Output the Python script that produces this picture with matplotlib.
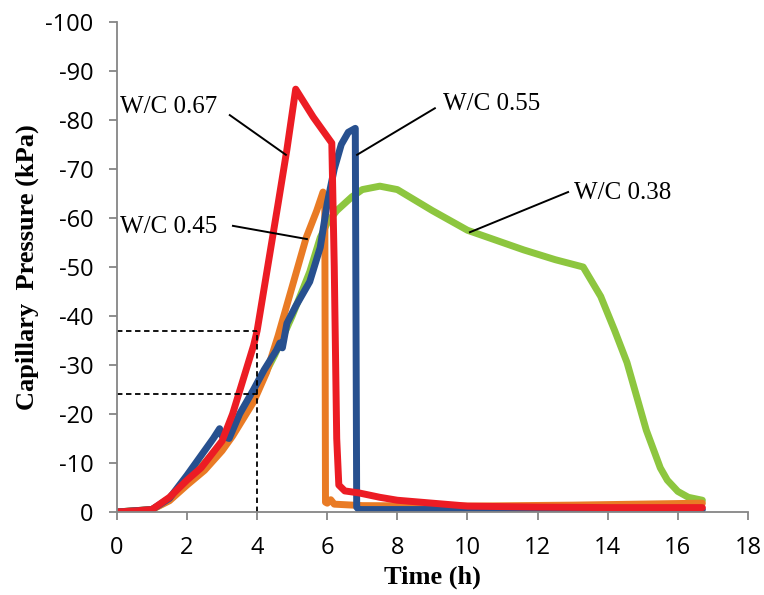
import matplotlib
matplotlib.use('Agg')
import matplotlib.pyplot as plt

plt.rcParams['axes.unicode_minus'] = False

# W/C 0.67 (red)
t_067 = [0, 0.5, 1.0, 1.5, 2.0, 2.4, 3.0, 3.3, 3.6, 3.9, 4.0, 4.3, 4.6, 4.85, 5.1,
         5.6, 6.13, 6.2, 6.27, 6.33, 6.5, 6.9, 7.5, 8.0, 9.0, 10.0, 12.0, 14.0, 16.7]
p_067 = [0, -0.2, -0.5, -3, -6.5, -9, -14.5, -20, -27, -34, -37, -50, -63, -74, -86.3,
         -80.6, -75.3, -50, -15, -5.5, -4.3, -3.9, -3, -2.4, -1.8, -1.2, -1.0, -0.9, -0.9]

# W/C 0.55 (blue)
t_055 = [0, 1.0, 1.5, 2.0, 2.55, 2.75, 2.93, 3.0, 3.2, 3.5, 3.9, 4.2, 4.55, 4.65, 4.72,
         4.85, 5.1, 5.5, 5.8, 6.0, 6.2, 6.4, 6.6, 6.8, 6.84, 6.9, 8, 10, 12, 14, 16.7]
p_055 = [0, -0.5, -2.8, -7.5, -13, -15, -17, -15.5, -15, -20, -25, -29, -33, -34.5, -33.5,
         -38.5, -42, -47, -54, -63, -70, -75, -77.5, -78.3, -1, -0.5, -0.5, -0.5, -0.5, -0.5, -0.5]

# W/C 0.45 (orange)
t_045 = [0, 1.0, 1.5, 2.0, 2.5, 3.0, 3.3, 3.6, 3.9, 4.27, 4.6, 5.0, 5.4, 5.7, 5.88,
         5.93, 5.95, 6.0, 6.1, 6.2, 7, 10, 13, 16.7]
p_045 = [0, -0.5, -2.3, -5.5, -8.5, -12.5, -15.5, -19, -22.5, -28.5, -36, -46, -56, -61.5, -65.3,
         -64, -2, -1.8, -2.5, -1.6, -1.3, -1.2, -1.4, -1.8]

# W/C 0.38 (green)
t_038 = [0, 1, 1.5, 2, 2.5, 3, 3.5, 4, 4.5, 5, 5.5, 5.8, 6.0, 6.27, 6.7, 7.0, 7.5, 8.0,
         9.0, 10.0, 11.0, 11.6, 12.5, 13.3, 13.8, 14.2, 14.55, 15.1, 15.5, 15.7, 16.0, 16.3, 16.7]
p_038 = [0, -0.5, -2.5, -6, -10, -14, -19, -25, -32, -40, -49, -56, -59, -61.5, -64.3, -65.8, -66.5, -65.8,
         -61.5, -57.5, -55, -53.5, -51.5, -50, -44, -37, -30.5, -16.7, -9, -6.5, -4.2, -3, -2.4]

fig = plt.figure(figsize=(7.64, 5.95), dpi=100)
ax = fig.add_axes([0.153, 0.1395, 0.826, 0.8235])

lw = 5
style = dict(lw=lw, solid_joinstyle='round', solid_capstyle='round')
ax.plot(t_038, p_038, color='#8DC63F', **style)
ax.plot(t_045, p_045, color='#E97B25', **style)
ax.plot(t_055, p_055, color='#27508F', **style)
ax.plot(t_067, p_067, color='#EC1C24', **style)

# dashed guide lines
ax.plot([0, 4], [-37, -37], color='black', lw=1.3, ls=(0, (3, 2)))
ax.plot([0, 4], [-24, -24], color='black', lw=1.3, ls=(0, (3, 2)))
ax.plot([4, 4], [0, -37], color='black', lw=1.3, ls=(0, (3, 2)))

# labels with leader lines
serif = 'Liberation Serif'
ax.text(0.09, -82.7, 'W/C 0.67', fontsize=18, family=serif, va='center', ha='left')
ax.plot([3.22, 4.82], [-81, -72.9], color='black', lw=1.4)
ax.text(0.09, -58.2, 'W/C 0.45', fontsize=18, family=serif, va='center', ha='left')
ax.plot([3.31, 5.42], [-58.4, -55.7], color='black', lw=1.4)
ax.text(9.3, -83.3, 'W/C 0.55', fontsize=18, family=serif, va='center', ha='left')
ax.plot([9.07, 6.85], [-82.4, -72.9], color='black', lw=1.4)
ax.text(13.05, -65.1, 'W/C 0.38', fontsize=18, family=serif, va='center', ha='left')
ax.plot([12.87, 10.07], [-65.3, -57.1], color='black', lw=1.4)

ax.set_xlim(0, 18)
ax.set_ylim(0, -100)
ax.set_xticks(range(0, 19, 2))
ax.set_yticks(range(0, -101, -10))

for s in ['top', 'right']:
    ax.spines[s].set_visible(False)
for s in ['left', 'bottom']:
    ax.spines[s].set_color('#868686')
    ax.spines[s].set_linewidth(1.3)
ax.tick_params(direction='out', length=6, width=1.3, color='#868686',
               labelsize=17, pad=11)
for lab in ax.get_xticklabels() + ax.get_yticklabels():
    lab.set_family('Open Sans')

ax.set_xlabel('Time (h)', fontsize=19, fontweight='bold', family=serif, labelpad=4)
ax.set_ylabel('Capillary  Pressure (kPa)', fontsize=19, fontweight='bold', family=serif, labelpad=4)

fig.savefig('out.png', dpi=100)
